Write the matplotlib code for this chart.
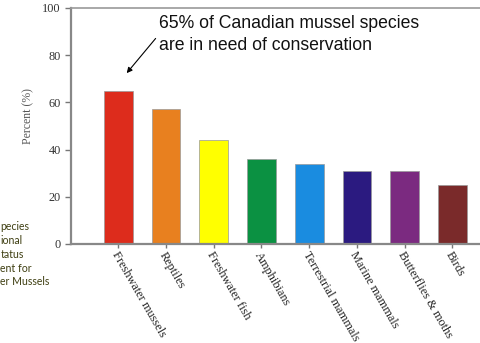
import matplotlib.pyplot as plt
from matplotlib.transforms import ScaledTranslation

# Share of species groups at risk in Canada
groups = ["Freshwater mussels", "Reptiles", "Freshwater fish", "Amphibians",
          "Terrestrial mammals", "Marine mammals", "Butterflies & moths", "Birds"]
percent = [65, 57, 44, 36, 34, 31, 31, 25]
bar_colors = ["#dd2c1c", "#e8801f", "#ffff00", "#0b9142",
              "#1a8ce0", "#2b1a80", "#7b2a80", "#7a2a2a"]

# Tail ends of a side caption that sits at the left border
side_lines = ["pecies", "ional", "tatus", "ent for", "er Mussels"]

fig = plt.figure(figsize=(4.81, 3.43), dpi=100)
W, H = 481, 343
ax = fig.add_axes([71 / W, 1 - 244 / H, (481 - 71) / W + 0.01, (244 - 8) / H])

x = list(range(len(groups)))
ax.bar(x, percent, width=0.6, color=bar_colors, edgecolor="#999999", linewidth=0.5, zorder=2)

ax.set_xlim(-0.99, 7.7)
ax.set_ylim(0, 100)
ax.set_yticks([0, 20, 40, 60, 80, 100])
ax.set_yticklabels(["0", "20", "40", "60", "80", "100"], family="Liberation Serif",
                   fontsize=8.8, color="#333333")
ax.set_xticks(x)
ax.set_xticklabels([])
ax.tick_params(axis="y", direction="out", length=4, color="#777777", width=1)
ax.tick_params(axis="x", direction="out", length=3, color="#777777", width=1)

# slanted category names hanging under each tick
label_tf = ax.get_xaxis_transform() + ScaledTranslation(-4 / 100, -9 / 100, fig.dpi_scale_trans)
for xi, name in zip(x, groups):
    ax.text(xi, 0, name, transform=label_tf, family="Liberation Serif", fontsize=8.8,
            color="#222222", rotation=-60, ha="left", va="center", rotation_mode="anchor")

for side in ["left", "bottom"]:
    ax.spines[side].set_color("#888888")
    ax.spines[side].set_linewidth(1.6)
ax.spines["top"].set_color("#999999")
ax.spines["top"].set_linewidth(1.2)
ax.spines["right"].set_visible(False)

ax.set_ylabel("Percent (%)", family="Liberation Serif", fontsize=8.5, color="#555555")
ax.yaxis.set_label_coords(-0.089, 0.54)

ax.annotate("", xy=(0.14, 71.5), xytext=(0.82, 88),
            arrowprops=dict(arrowstyle="-|>", color="black", lw=0.8, mutation_scale=8))
ax.text(0.85, 88.8, "65% of Canadian mussel species\nare in need of conservation",
        family="Liberation Sans", fontsize=12.7, color="#111111", va="center", ha="left",
        linespacing=1.45)

for i, line in enumerate(side_lines):
    fig.text(0.5 / W, 1 - (227 + 13.7 * i) / H, line, family="Lato", fontsize=7.6,
             color="#3f3f12", ha="left", va="center")

fig.savefig("out.png", dpi=100)
